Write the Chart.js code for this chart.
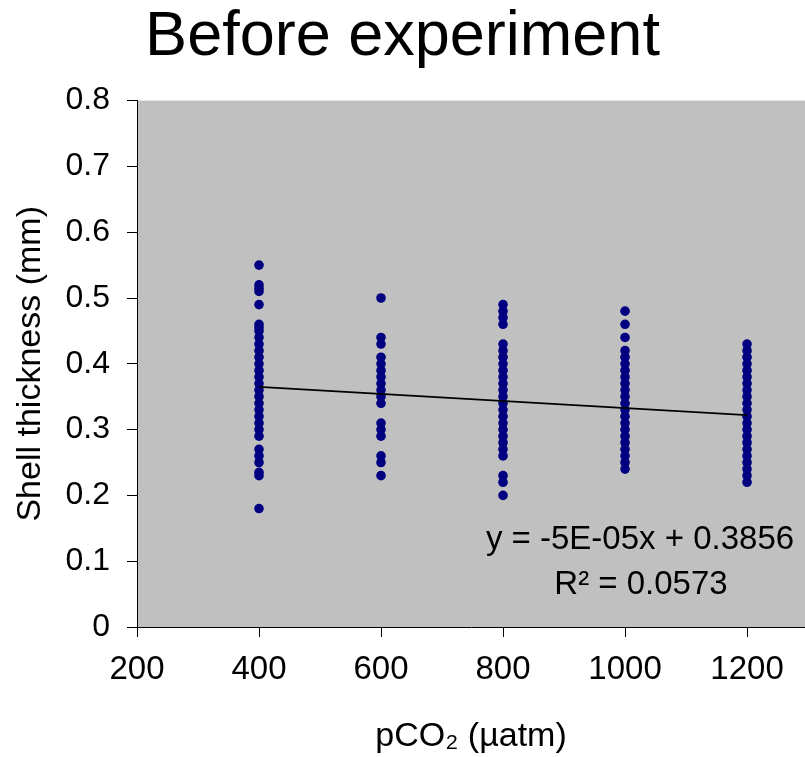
<!DOCTYPE html>
<html>
<head>
<meta charset="utf-8">
<script src="https://cdn.jsdelivr.net/npm/chart.js@4.4.1/dist/chart.umd.min.js"></script>
<style>
  html, body { margin: 0; padding: 0; background: #fff; }
  #wrap { width: 805px; height: 757px; }
</style>
</head>
<body>
<div id="wrap"><canvas id="shell-chart"></canvas></div>
<script>
// pCO2 levels (µatm) and shell thickness readings (mm) at each level
var pco2Levels = [400, 600, 800, 1000, 1200];
var shell400 = [0.55, 0.52, 0.515, 0.51, 0.49, 0.46, 0.455, 0.45, 0.44, 0.43, 0.42, 0.41, 0.40, 0.39, 0.38, 0.37, 0.36, 0.35, 0.34, 0.33, 0.32, 0.31, 0.30, 0.29, 0.27, 0.26, 0.25, 0.235, 0.23, 0.18];
var shell600 = [0.50, 0.44, 0.43, 0.41, 0.40, 0.39, 0.38, 0.37, 0.36, 0.35, 0.34, 0.31, 0.30, 0.29, 0.26, 0.25, 0.23];
var shell800 = [0.49, 0.48, 0.47, 0.46, 0.43, 0.42, 0.41, 0.40, 0.39, 0.38, 0.37, 0.36, 0.35, 0.34, 0.33, 0.32, 0.31, 0.30, 0.29, 0.28, 0.27, 0.26, 0.23, 0.22, 0.20];
var shell1000 = [0.48, 0.46, 0.44, 0.42, 0.41, 0.40, 0.39, 0.38, 0.37, 0.36, 0.35, 0.34, 0.33, 0.32, 0.31, 0.30, 0.29, 0.28, 0.27, 0.26, 0.25, 0.24];
var shell1200 = [0.43, 0.42, 0.41, 0.40, 0.39, 0.38, 0.37, 0.36, 0.35, 0.34, 0.33, 0.32, 0.31, 0.30, 0.29, 0.28, 0.27, 0.26, 0.25, 0.24, 0.23, 0.22];

// linear trend line ends
var trendX = [400, 1200];
var trendY = [0.365, 0.322];
var trendLabel = ["y = -5E-05x + 0.3856", "R\u00b2 = 0.0573"];

var FONT = "'Liberation Sans', Arial, sans-serif";

var shellSets = [shell400, shell600, shell800, shell1000, shell1200];
var points = [];
shellSets.forEach(function (arr, i) {
    arr.forEach(function (v) { points.push({ x: pco2Levels[i], y: v }); });
});
var trend = trendX.map(function (x, i) { return { x: x, y: trendY[i] }; });

// gray plot area + equation text
var plotBg = {
    id: "plotBg",
    beforeDraw: function (chart) {
        var a = chart.chartArea, c = chart.ctx;
        c.save();
        c.fillStyle = "#c0c0c0";
        c.fillRect(a.left, a.top, a.right - a.left, a.bottom - a.top);
        c.restore();
    },
    afterDraw: function (chart) {
        var c = chart.ctx, a = chart.chartArea;
        c.save();
        c.fillStyle = "#000";
        c.font = "33px " + FONT;
        c.textAlign = "center";
        c.textBaseline = "middle";
        c.fillText(trendLabel[0], a.right - 165, a.bottom - 87);
        c.fillText(trendLabel[1], a.right - 164, a.bottom - 42);
        c.restore();
    }
};

var ctx = document.getElementById("shell-chart").getContext("2d");
var shellChart = new Chart(ctx, {
    type: "scatter",
    data: {
        datasets: [{
            label: "Shell thickness",
            data: points,
            backgroundColor: "#000080",
            borderWidth: 0,
            pointRadius: 4.8,
            order: 2
        }, {
            type: "line",
            label: "Trend",
            data: trend,
            borderColor: "#000",
            borderWidth: 1.6,
            pointRadius: 0,
            fill: false,
            order: 1
        }]
    },
    options: {
        responsive: true,
        maintainAspectRatio: false,
        animation: false,
        layout: { padding: 0, autoPadding: false },
        plugins: {
            legend: { display: false },
            tooltip: { enabled: false },
            title: {
                display: true,
                text: "Before experiment",
                color: "#000",
                font: { family: FONT, size: 63, weight: "normal" },
                padding: { top: 0, bottom: 25 }
            }
        },
        scales: {
            x: {
                type: "linear",
                min: 200,
                max: 1295,
                afterFit: function (s) {
                    s.height = 130;
                    s.paddingLeft = 0;
                    s.paddingRight = 0;
                },
                border: { display: true, color: "#000", width: 1 },
                grid: { drawOnChartArea: false, drawTicks: true, tickLength: 10, color: "#000" },
                ticks: {
                    stepSize: 200,
                    includeBounds: false,
                    padding: 13,
                    color: "#000",
                    maxRotation: 0,
                    font: { family: FONT, size: 33 },
                    callback: function (v) { return String(v); }
                },
                title: {
                    display: true,
                    text: "pCO\u2082 (\u00b5atm)",
                    color: "#000",
                    font: { family: FONT, size: 34 },
                    padding: { top: 0, bottom: 0 }
                }
            },
            y: {
                min: 0,
                max: 0.8,
                afterFit: function (s) { s.width = 137; },
                border: { display: true, color: "#000", width: 1 },
                grid: { drawOnChartArea: false, drawTicks: true, tickLength: 10, color: "#000" },
                ticks: {
                    stepSize: 0.1,
                    padding: 17,
                    color: "#000",
                    font: { family: FONT, size: 32 },
                    callback: function (v) { return String(Math.round(v * 10) / 10); }
                },
                title: {
                    display: true,
                    text: "Shell thickness (mm)",
                    color: "#000",
                    font: { family: FONT, size: 34 },
                    padding: { top: 10, bottom: 0 }
                }
            }
        }
    },
    plugins: [plotBg]
});
</script>
</body>
</html>
